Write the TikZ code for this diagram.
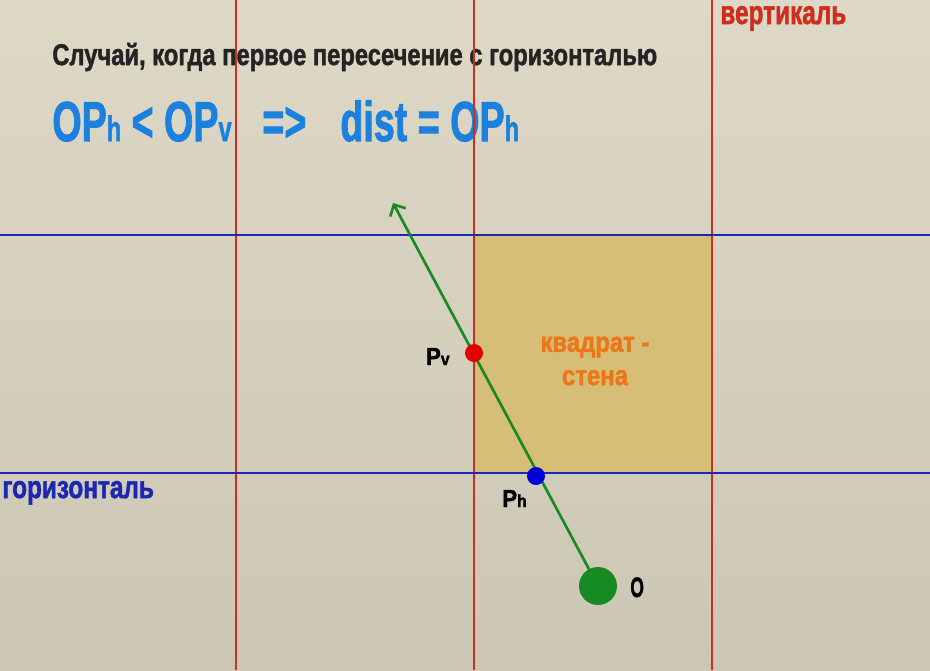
\documentclass[tikz,border=0pt]{standalone}
\usepackage{fontspec}
\setmainfont{Liberation Sans}[BoldFeatures={FakeBold=1.8}]
\usepackage{tikz}
\usepackage{xcolor}
\definecolor{PaperTop}{RGB}{222, 216, 198}
\definecolor{PaperLow}{RGB}{204, 198, 180}
\definecolor{WallFill}{RGB}{214, 190, 118}
\definecolor{GridRed}{RGB}{206, 46, 30}
\definecolor{GridBlue}{RGB}{28, 40, 178}
\definecolor{FormulaBlue}{RGB}{28, 128, 222}
\definecolor{WallText}{RGB}{236, 118, 26}
\definecolor{RayGreen}{RGB}{24, 138, 36}
\definecolor{TitleGray}{RGB}{36, 36, 36}
\usetikzlibrary{arrows.meta}
\newcommand{\squeeze}[2]{\scalebox{#1}[1]{#2}}
\newcommand{\sub}[1]{{\fontsize{20}{20}\selectfont #1}}

\begin{document}
\begin{tikzpicture}[
    x=0.02cm, y=-0.02cm,
    vline/.style={GridRed, line width=1.1pt},
    hline/.style={GridBlue, line width=1.2pt},
    ray/.style={-{Straight Barb[length=5pt, width=10pt]}, RayGreen, line width=1.5pt},
    dot/.style={circle, inner sep=0pt, minimum size=0.36cm},
    label/.style={font=\bfseries\fontsize{14}{14}\selectfont, text=black, inner sep=0pt},
    formula/.style={font=\bfseries\fontsize{32}{32}\selectfont, text=FormulaBlue, inner sep=0pt, anchor=base west}
]

\useasboundingbox (0,0) rectangle (930,670);
\shade[top color=PaperTop, bottom color=PaperLow] (0,0) rectangle (930,670);

% Wall square
\fill[WallFill] (474,235) rectangle (712,473);

% Texts
\node[font=\bfseries\fontsize{17}{17}\selectfont, text=TitleGray, inner sep=0pt, anchor=base west]
    (title) at (52,65) {\squeeze{0.795}{Случай, когда первое пересечение с горизонталью}};
\node[formula] (lhs) at (52,141) {\squeeze{0.67}{OP\sub{h} < OP\sub{v}}};
\node[formula] (impl) at (262,141) {\squeeze{0.67}{=>}};
\node[formula] (rhs) at (340,141) {\squeeze{0.67}{dist = OP\sub{h}}};
\node[font=\bfseries\fontsize{19}{19}\selectfont, text=GridRed, inner sep=0pt, anchor=base west]
    (vert) at (720,24) {\squeeze{0.73}{вертикаль}};
\node[font=\bfseries\fontsize{18}{18}\selectfont, text=GridBlue, inner sep=0pt, anchor=base west]
    (horiz) at (2,498) {\squeeze{0.77}{горизонталь}};
\node[font=\bfseries\fontsize{16}{19}\selectfont, text=WallText, align=center, inner sep=0pt]
    (walltext) at (595,361) {\squeeze{0.85}{квадрат -}\\\squeeze{0.85}{стена}};

% Grid lines
\foreach \x in {236,474,712}
    \draw[vline] (\x,0) -- (\x,670);
\foreach \y in {235,473}
    \draw[hline] (0,\y) -- (930,\y);

% Ray from O
\coordinate (o) at (598,586);
\coordinate (tip) at (393,203);
\draw[ray] (o) -- (tip);

% Intersection points
\node[dot, fill=red!90!black] (pv) at (474,353) {};
\node[dot, fill=blue!85!black] (ph) at (536,476) {};
\node[dot, fill=RayGreen, minimum size=0.76cm] (origin) at (o) {};

% Labels
\node[label, anchor=base east] (pvlabel) at (450,365) {\squeeze{0.9}{P{\fontsize{10}{10}\selectfont v}}};
\node[label, anchor=base west] (phlabel) at (502,507) {\squeeze{0.9}{P{\fontsize{10}{10}\selectfont h}}};
\node[label, font=\bfseries\fontsize{16}{16}\selectfont, anchor=base west] (olabel) at (630,597) {\squeeze{0.62}{O}};

\end{tikzpicture}
\end{document}
